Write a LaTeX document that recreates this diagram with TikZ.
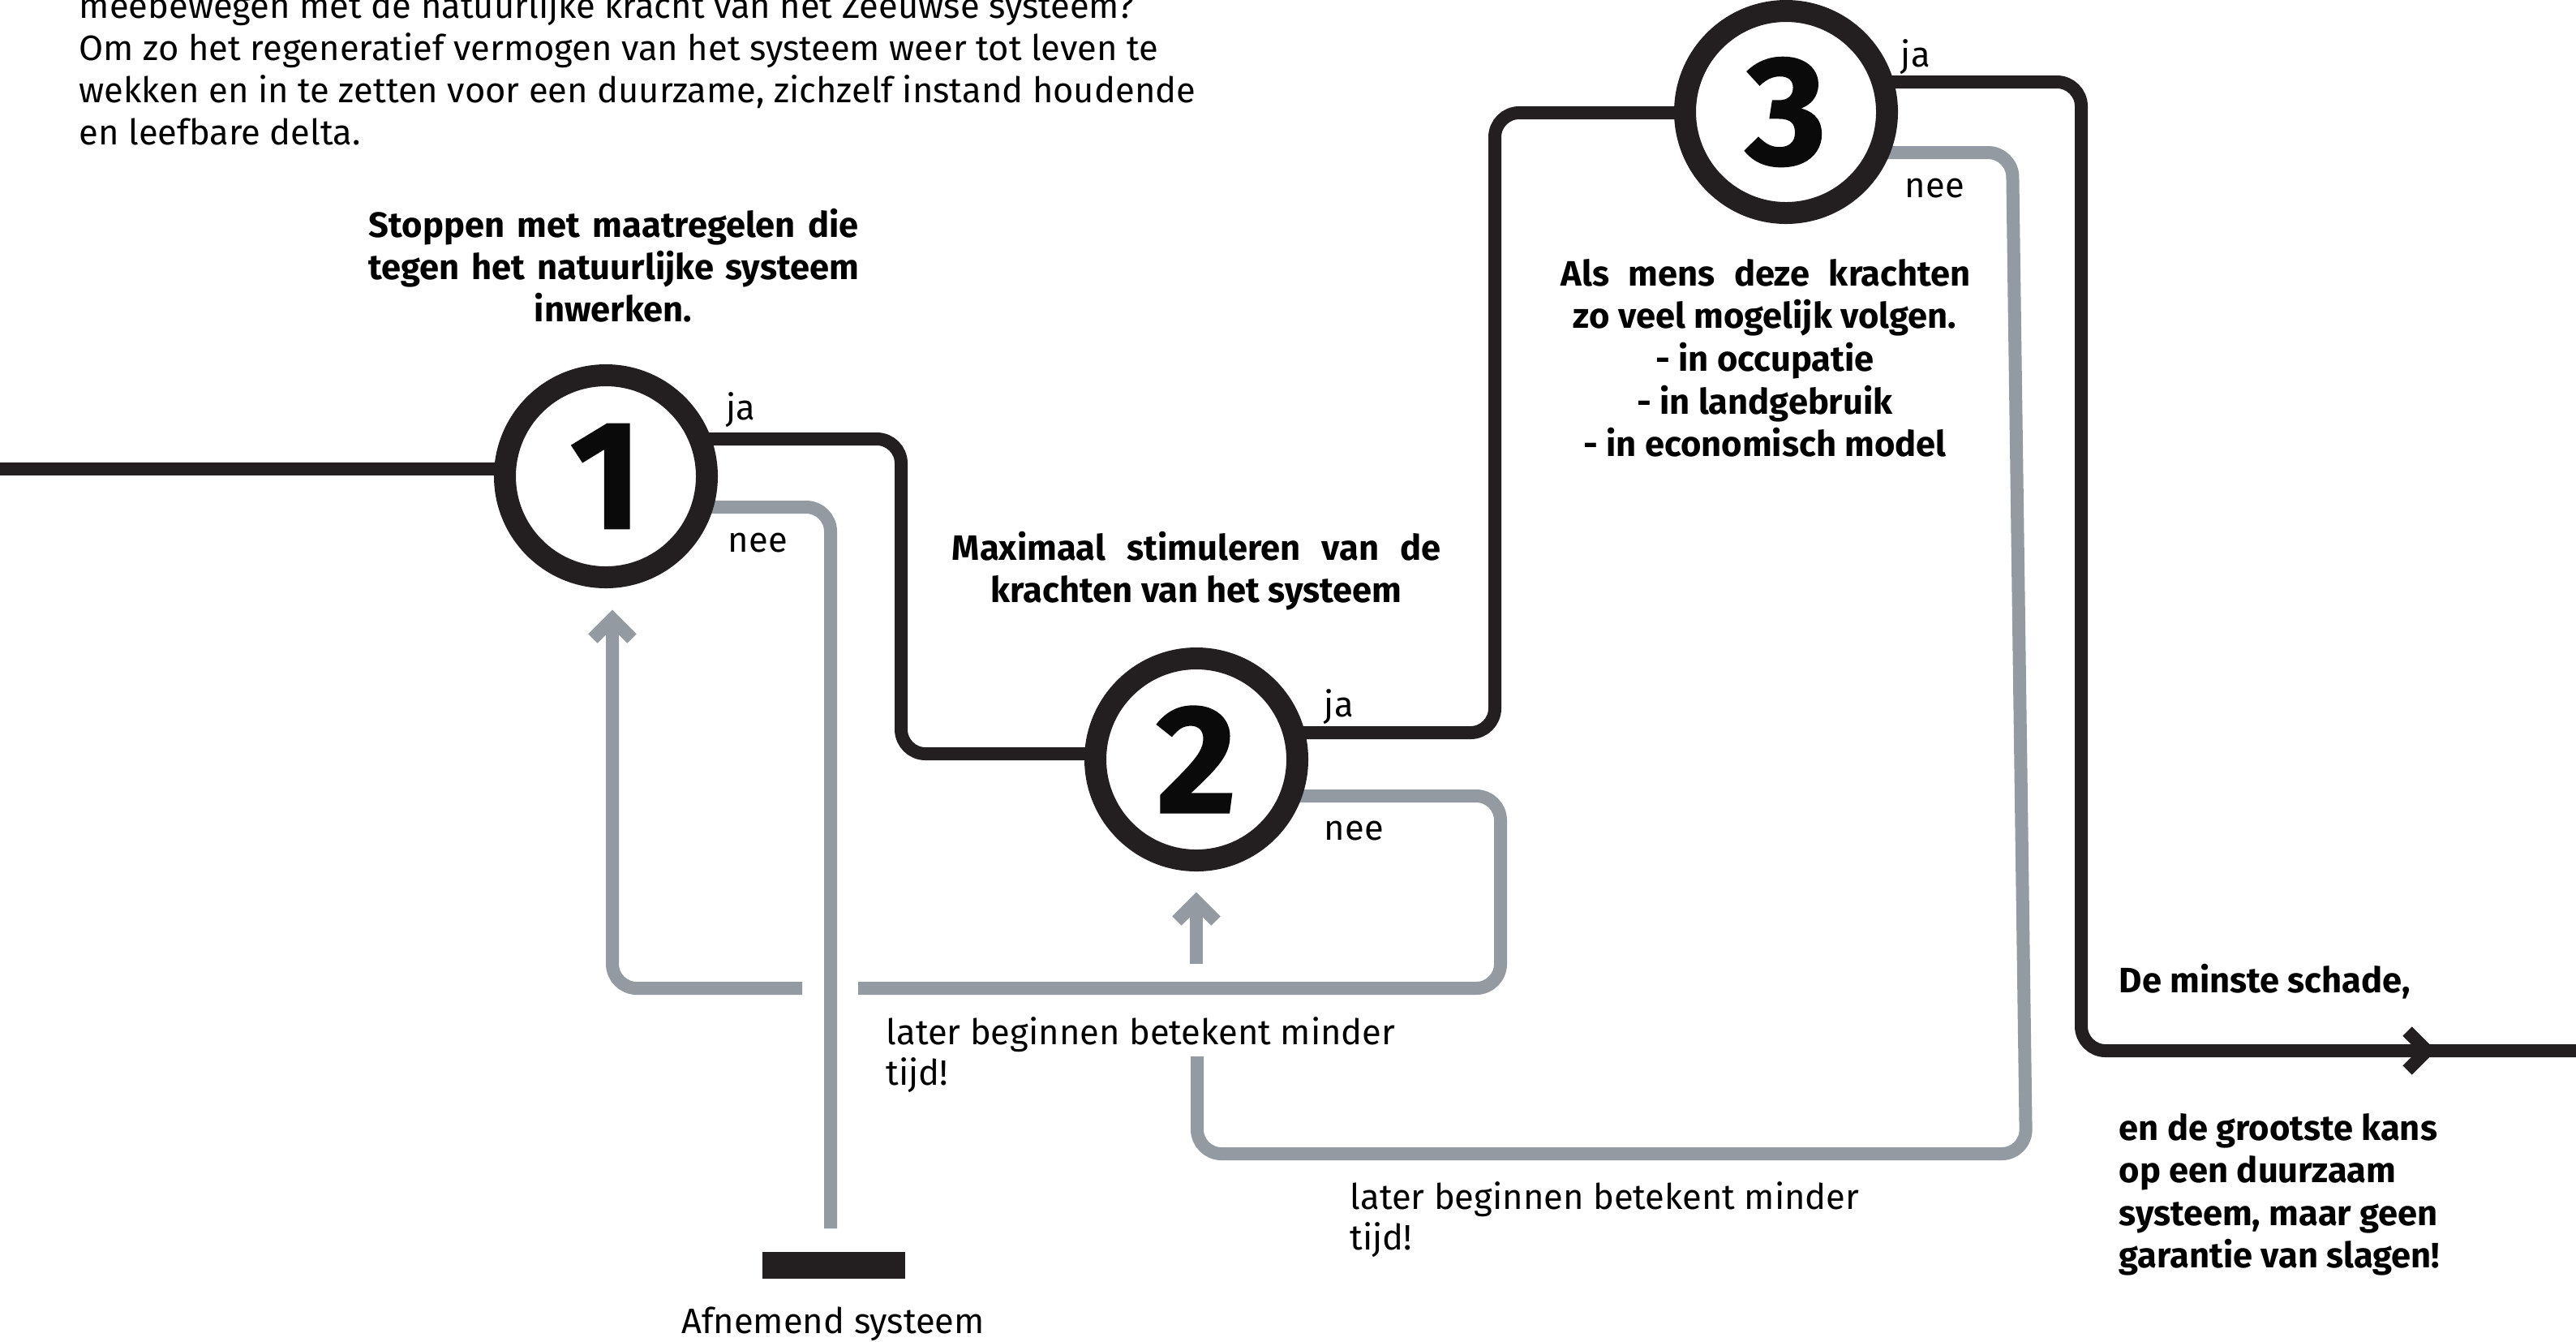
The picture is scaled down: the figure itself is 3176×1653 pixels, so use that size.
\documentclass[tikz,border=0pt]{standalone}
\usepackage{fontspec}
\setmainfont{Fira Sans}
\newfontfamily\numfont{Fira Sans}[FakeBold=1.2]
\usetikzlibrary{calc,backgrounds}
\definecolor{cblk}{HTML}{231F20}
\definecolor{cgry}{HTML}{939AA1}
\definecolor{cnum}{HTML}{0A0A0A}
\newcommand\chevU[2]{\draw[#1, rounded corners=0pt, line join=miter] ($(#2)+(-24,24)$) -- (#2) -- ($(#2)+(24,24)$);}
\newcommand\chevR[2]{\draw[#1, rounded corners=0pt, line join=miter] ($(#2)+(-24,-24)$) -- (#2) -- ($(#2)+(-24,24)$);}
\begin{document}
\begin{tikzpicture}[x=0.25pt,y=-0.25pt,
  bline/.style={draw=cblk, line width=4pt, rounded corners=7.5pt},
  gline/.style={draw=cgry, line width=4pt, rounded corners=7.5pt},
  ring/.style={circle, draw=cblk, line width=6.75pt, fill=white, minimum size=62.25pt, inner sep=0pt, text=cnum, font=\numfont\bfseries\fontsize{47.5pt}{47.5pt}\selectfont},
  txt/.style={inner sep=0pt, font=\fontsize{10.875pt}{13pt}\selectfont},
  btxt/.style={inner sep=0pt, font=\bfseries\fontsize{10.875pt}{13pt}\selectfont},
]
\useasboundingbox (0,0) rectangle (3176,1653);
\clip (0,0) rectangle (3176,1653);

% decision circles
\node[ring] (c1) at (747,587) {1};
\node[ring] (c2) at (1475,936) {2};
\node[ring] (c3) at (2202,138) {3};

\begin{scope}[on background layer]
\fill[white] (0,0) rectangle (3176,1653);
% black main route
\coordinate (start) at (-20,578);
\draw[bline] (start) -- (start -| c1);
\draw[bline] ($(c1)+(0,-46)$) -- (1111,541) -- (1111,929) -- ($(c2)+(0,-7)$);
\draw[bline] ($(c2)+(0,-33)$) -- (1843,903) -- (1843,139) -- ($(c3)+(0,1)$);
\coordinate (finish) at (3200,1295);
\draw[bline] ($(c3)+(0,-37)$) -- (2566,101) -- (2566,1295) -- (finish);
% grey routes
\draw[gline] ($(c1)+(0,38)$) -- (1024,625) -- (1024,1514);
\draw[gline] ($(c2)+(0,45)$) -- (1850,981) -- (1850,1218) -- (1058,1218);
\coordinate (a1) at (755,763);
\draw[gline] (989,1218) -- (755,1218) -- (a1);
\coordinate (a2) at (1475,1111);
\draw[gline] (1475,1188) -- (a2);
\draw[gline] ($(c3)+(0,50)$) -- (2481,188) -- (2498,1422) -- (1476,1422) -- (1476,1302);
\end{scope}

% arrow heads
\chevU{gline}{a1}
\chevU{gline}{a2}
\coordinate (a3) at (2992,1295);
\chevR{bline}{a3}

% bar
\node[fill=cblk, inner sep=0pt, minimum width=44pt, minimum height=8.25pt] (bar) at (1028,1559.5) {};

% ja / nee labels
\node[txt, anchor=base west] (j1) at (895,517) {ja};
\node[txt, anchor=base west] (n1) at (897,680) {nee};
\node[txt, anchor=base west] (j2) at (1632,883) {ja};
\node[txt, anchor=base west] (n2) at (1632,1035) {nee};
\node[txt, anchor=base west] (j3) at (2343,82) {ja};
\node[txt, anchor=base west] (n3) at (2348,243) {nee};

% top paragraph
\node[txt, anchor=base west] (p1) at (97,22) {meebewegen met de natuurlijke kracht van het Zeeuwse systeem?};
\node[txt, anchor=base west] (p2) at (97,74) {Om zo het regeneratief vermogen van het systeem weer tot leven te};
\node[txt, anchor=base west] (p3) at (97,126) {wekken en in te zetten voor een duurzame, zichzelf instand houdende};
\node[txt, anchor=base west] (p4) at (97,178) {en leefbare delta.};

% block 1
\node[btxt, anchor=base west] (s1) at (454,292) {\makebox[151pt][s]{Stoppen met maatregelen die}};
\node[btxt, anchor=base west] (s2) at (454,344) {\makebox[151pt][s]{tegen het natuurlijke systeem}};
\node[btxt, anchor=base] (s3) at (756,396) {inwerken.};

% block 2
\node[btxt, anchor=base west] (m1) at (1173,690) {\makebox[150.75pt][s]{Maximaal stimuleren van de}};
\node[btxt, anchor=base] (m2) at (1475,742) {krachten van het systeem};

% block 3
\node[btxt, anchor=base west] (b1) at (1924,352) {\makebox[126.25pt][s]{Als mens deze krachten}};
\node[btxt, anchor=base] (b2) at (2176,404) {zo veel mogelijk volgen.};
\node[btxt, anchor=base] (b3) at (2176,457) {- in occupatie};
\node[btxt, anchor=base] (b4) at (2176,510) {- in landgebruik};
\node[btxt, anchor=base] (b5) at (2176,562) {- in economisch model};

% result
\node[btxt, anchor=base west] (r0) at (2612,1223) {De minste schade,};
\node[btxt, anchor=base west] (r1) at (2612,1405) {en de grootste kans};
\node[btxt, anchor=base west] (r2) at (2612,1457) {op een duurzaam};
\node[btxt, anchor=base west] (r3) at (2612,1510) {systeem, maar geen};
\node[btxt, anchor=base west] (r4) at (2612,1562) {garantie van slagen!};

% later beginnen
\node[txt, anchor=base west] (l1) at (1092,1287) {later beginnen betekent minder};
\node[txt, anchor=base west] (l2) at (1092,1337) {tijd!};
\node[txt, anchor=base west] (l3) at (1664,1490) {later beginnen betekent minder};
\node[txt, anchor=base west] (l4) at (1664,1540) {tijd!};

\node[txt, anchor=base] (af) at (1027,1643) {Afnemend systeem};
\end{tikzpicture}
\end{document}
